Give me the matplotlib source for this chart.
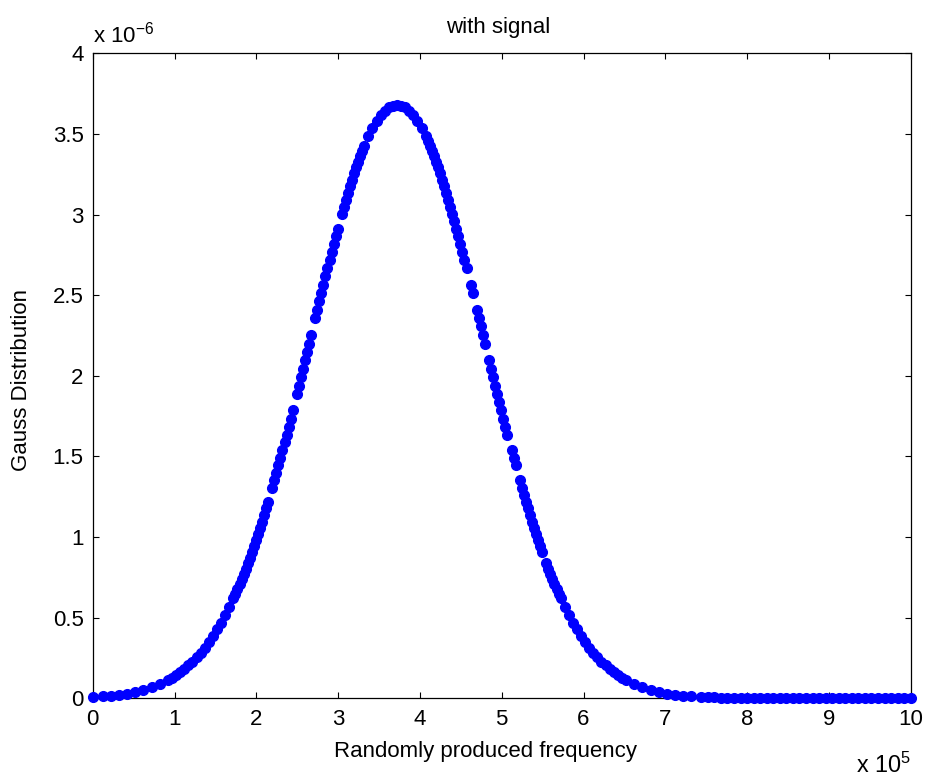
"""Gauss distribution of the randomly produced frequencies (with signal).

Each sample is drawn as a filled blue dot; the x and y axes use the
usual "x 10^n" multiplier labels instead of long tick strings.
"""

import matplotlib
matplotlib.use("Agg")
import matplotlib.pyplot as plt
import numpy as np
from matplotlib.ticker import FuncFormatter

plt.rcParams["font.family"] = ["Liberation Sans", "DejaVu Sans"]
plt.rcParams["mathtext.fontset"] = "custom"
plt.rcParams["mathtext.rm"] = "Liberation Sans"
plt.rcParams["mathtext.it"] = "Liberation Sans:italic"

# ----------------------------------------------------------------------
# Samples: frequency in units of 1e5, density in units of 1e-6
# ----------------------------------------------------------------------
rise_freq = [
    0.00, 0.12, 0.22, 0.32, 0.42, 0.52, 0.62, 0.72, 0.82, 0.92, 0.97,
    1.02, 1.07, 1.12, 1.17, 1.22, 1.27, 1.32, 1.37, 1.42, 1.47, 1.52,
    1.57, 1.62, 1.67, 1.72, 1.745, 1.77, 1.795, 1.82, 1.845, 1.87, 1.895,
    1.92, 1.945, 1.97, 1.995, 2.02, 2.045, 2.07, 2.095, 2.12, 2.145,
    2.195, 2.22, 2.245, 2.27, 2.295, 2.32, 2.345, 2.37, 2.395, 2.42,
    2.445, 2.495, 2.52, 2.545, 2.57, 2.595, 2.62, 2.645, 2.67, 2.72,
    2.745, 2.77, 2.795, 2.82, 2.845, 2.87, 2.895, 2.92, 2.945, 2.97,
    2.995, 3.045, 3.07, 3.095, 3.12, 3.145, 3.17, 3.195, 3.22, 3.245,
    3.27, 3.295, 3.32, 3.37, 3.42, 3.47, 3.52, 3.57, 3.62, 3.67, 3.72,
]
rise_density = [
    0.008, 0.012, 0.016, 0.021, 0.029, 0.039, 0.051, 0.067, 0.087, 0.112,
    0.127, 0.143, 0.162, 0.182, 0.204, 0.228, 0.255, 0.284, 0.315, 0.350,
    0.387, 0.427, 0.470, 0.517, 0.567, 0.621, 0.649, 0.678, 0.707, 0.738,
    0.770, 0.802, 0.836, 0.870, 0.906, 0.942, 0.979, 1.017, 1.056, 1.096,
    1.136, 1.178, 1.220, 1.307, 1.352, 1.398, 1.444, 1.491, 1.538, 1.587,
    1.635, 1.685, 1.735, 1.785, 1.887, 1.939, 1.991, 2.043, 2.095, 2.148,
    2.200, 2.253, 2.358, 2.411, 2.463, 2.515, 2.566, 2.618, 2.668, 2.718,
    2.768, 2.817, 2.865, 2.912, 3.005, 3.049, 3.093, 3.135, 3.177, 3.217,
    3.255, 3.293, 3.328, 3.363, 3.396, 3.427, 3.485, 3.536, 3.579, 3.615,
    3.643, 3.664, 3.676, 3.680,
]

fall_freq = [
    3.77, 3.82, 3.87, 3.92, 3.97, 4.02, 4.07, 4.095, 4.12, 4.145, 4.17,
    4.195, 4.22, 4.245, 4.27, 4.295, 4.32, 4.345, 4.37, 4.395, 4.42,
    4.445, 4.47, 4.495, 4.52, 4.545, 4.57, 4.62, 4.645, 4.695, 4.72,
    4.745, 4.77, 4.795, 4.845, 4.87, 4.895, 4.92, 4.945, 4.97, 4.995,
    5.02, 5.045, 5.07, 5.12, 5.145, 5.17, 5.22, 5.245, 5.27, 5.295,
    5.32, 5.345, 5.37, 5.395, 5.42, 5.445, 5.47, 5.495, 5.545, 5.57,
    5.595, 5.62, 5.645, 5.67, 5.695, 5.72, 5.77, 5.82, 5.87, 5.92, 5.97,
    6.02, 6.07, 6.12, 6.17, 6.22, 6.27, 6.32, 6.37, 6.42, 6.47, 6.52,
    6.62, 6.72, 6.82, 6.92, 7.02, 7.12, 7.22, 7.32, 7.44,
]
fall_density = [
    3.676, 3.664, 3.643, 3.615, 3.579, 3.536, 3.485, 3.457, 3.427, 3.396,
    3.363, 3.328, 3.293, 3.255, 3.217, 3.177, 3.135, 3.093, 3.049, 3.005,
    2.959, 2.912, 2.865, 2.817, 2.768, 2.718, 2.668, 2.566, 2.515, 2.411,
    2.358, 2.306, 2.253, 2.200, 2.095, 2.043, 1.991, 1.939, 1.887, 1.836,
    1.785, 1.735, 1.685, 1.635, 1.538, 1.491, 1.444, 1.352, 1.307, 1.263,
    1.220, 1.178, 1.136, 1.096, 1.056, 1.017, 0.979, 0.942, 0.906, 0.836,
    0.802, 0.770, 0.738, 0.707, 0.678, 0.649, 0.621, 0.567, 0.517, 0.470,
    0.427, 0.387, 0.350, 0.315, 0.284, 0.255, 0.228, 0.204, 0.182, 0.162,
    0.143, 0.127, 0.112, 0.087, 0.067, 0.051, 0.039, 0.029, 0.021, 0.016,
    0.012, 0.008,
]

tail_freq = [
    7.52, 7.60, 7.68, 7.76, 7.84, 7.92, 8.00, 8.08, 8.16, 8.24, 8.32,
    8.40, 8.48, 8.56, 8.64, 8.72, 8.80, 8.88, 8.96, 9.04, 9.12, 9.20,
    9.28, 9.36, 9.44, 9.52, 9.60, 9.68, 9.76, 9.84, 9.92, 10.00,
]
tail_density = [
    0.006, 0.005, 0.004, 0.003, 0.002, 0.002, 0.001, 0.001, 0.001, 0.001,
    0.0, 0.0, 0.0, 0.0, 0.0, 0.0, 0.0, 0.0, 0.0, 0.0, 0.0, 0.0, 0.0, 0.0,
    0.0, 0.0, 0.0, 0.0, 0.0, 0.0, 0.0, 0.0,
]

X_SCALE = 1e5
Y_SCALE = 1e-6

x_ticks = [0, 1, 2, 3, 4, 5, 6, 7, 8, 9, 10]
y_ticks = [0, 0.5, 1, 1.5, 2, 2.5, 3, 3.5, 4]

FS = 16
W, H = 927, 780
# axes box in pixels: left, top, right, bottom
AX_L, AX_T, AX_R, AX_B = 92.7, 53.3, 910.7, 698.3


def main():
    freq = np.array(rise_freq + fall_freq + tail_freq) * X_SCALE
    dens = np.array(rise_density + fall_density + tail_density) * Y_SCALE

    fig = plt.figure(figsize=(W / 100, H / 100), dpi=100)
    ax = fig.add_axes([AX_L / W, 1 - AX_B / H,
                       (AX_R - AX_L) / W, (AX_B - AX_T) / H])

    ax.plot(freq, dens, linestyle="none", marker="o", markersize=7.0,
            color="#0000ff", markeredgecolor="#0000ff", clip_on=False,
            zorder=3)

    ax.set_xlim(0, 10 * X_SCALE)
    ax.set_ylim(0, 4 * Y_SCALE)
    ax.set_xticks([t * X_SCALE for t in x_ticks])
    ax.set_yticks([t * Y_SCALE for t in y_ticks])
    ax.xaxis.set_major_formatter(FuncFormatter(lambda v, _: f"{v / X_SCALE:g}"))
    ax.yaxis.set_major_formatter(FuncFormatter(lambda v, _: f"{v / Y_SCALE:g}"))

    ax.tick_params(direction="in", length=4.5, width=0.8, top=True,
                   right=True, labelsize=FS, colors="black")
    ax.tick_params(axis="y", pad=6.5)
    ax.tick_params(axis="x", pad=7.5)
    for s in ax.spines.values():
        s.set_linewidth(0.9)

    # title and axis labels, placed in pixel terms
    fig.text(498 / W, 1 - 28 / H, "with signal", ha="center", va="center",
             fontsize=FS)
    ax.set_xlabel("Randomly produced frequency", fontsize=FS, va="center")
    ax.xaxis.set_label_coords((485 - AX_L) / (AX_R - AX_L),
                              (AX_B - 751) / (AX_B - AX_T))
    ax.set_ylabel("Gauss Distribution", fontsize=FS, va="center",
                  ha="center")
    ax.yaxis.set_label_coords((22 - AX_L) / (AX_R - AX_L),
                              (AX_B - 380) / (AX_B - AX_T))

    # multiplier labels
    fig.text(93 / W, 1 - 42 / H, r"x 10$^{-6}$", ha="left",
             va="baseline", fontsize=FS)
    fig.text(856 / W, 1 - 773 / H, r"x 10$^{5}$", ha="left",
             va="baseline", fontsize=FS * 1.05)

    fig.savefig("out.png", dpi=100, facecolor="white")
    plt.close(fig)


if __name__ == "__main__":
    main()
